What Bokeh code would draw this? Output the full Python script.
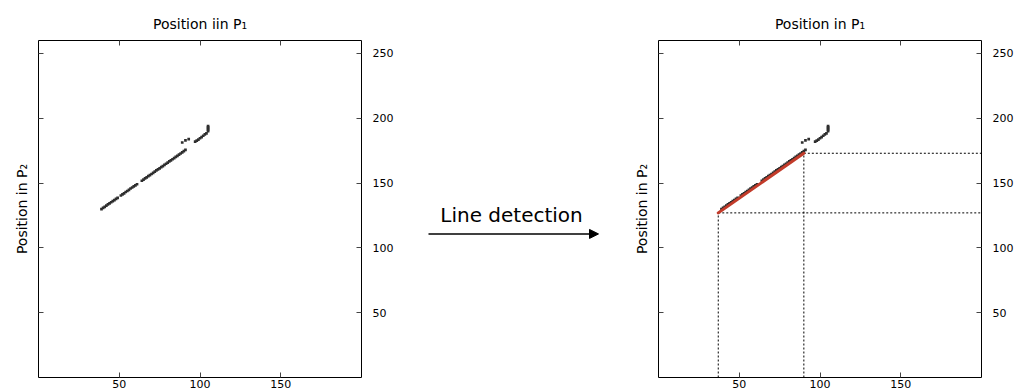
from bokeh.plotting import figure
from bokeh.layouts import row
from bokeh.models import (Range1d, LinearAxis, FixedTicker, Arrow, NormalHead, Label,
                          CustomLabelingPolicy)
from bokeh.embed import file_html
from bokeh.resources import INLINE

# ---- data ----
match_x = [39, 40, 41, 42, 43, 44, 45, 46, 47, 48, 49,
           51, 52, 53, 54, 55, 56, 57, 58, 59, 60, 61,
           64, 65, 66, 67, 68, 69, 70, 71, 72, 73, 74, 75, 76, 77,
           78, 79, 80, 81, 82, 83, 84, 85, 86, 87, 88, 89, 90, 91,
           89, 91, 93,
           97, 98, 99, 100, 101, 102, 103, 104,
           105, 105, 105, 105, 105]
match_y = [129.9, 130.8, 131.6, 132.6, 133.5, 134.3, 135.2, 136.0, 136.9, 137.8, 138.6,
           140.4, 141.3, 142.1, 143.1, 143.9, 144.8, 145.8, 146.6, 147.4, 148.3, 149.1,
           151.8, 152.6, 153.6, 154.4, 155.4, 156.2, 157.0, 157.9, 158.8, 159.8, 160.6, 161.4, 162.3, 163.1,
           164.1, 164.9, 165.8, 166.7, 167.5, 168.4, 169.3, 170.2, 171.0, 171.9, 172.8, 173.7, 174.6, 175.6,
           181.3, 182.9, 183.9,
           182.0, 182.8, 183.6, 184.6, 185.5, 186.5, 187.5, 188.4,
           190.0, 191.0, 192.0, 193.0, 194.0]
line_x = [37, 90]
line_y = [127, 173]
x_ticks = [50, 100, 150]
y_ticks = [50, 100, 150, 200, 250]
X_MIN, X_MAX = 0, 200
Y_MIN, Y_MAX = 0, 260

FONT = "DejaVu Sans"
DOT = "#2e2e2e"
RED = "#c23b2a"

NO_LABELS = CustomLabelingPolicy(code="""
for (const i of Array.from(indices)) { indices.unset(i) }
return indices
""")


def make_panel(title, width, left_border, right_border):
    p = figure(width=width, height=392,
               x_range=Range1d(X_MIN, X_MAX), y_range=Range1d(Y_MIN, Y_MAX),
               output_backend="svg", toolbar_location=None,
               x_axis_location=None, y_axis_location=None,
               min_border_left=left_border, min_border_right=right_border,
               min_border_top=40, min_border_bottom=15)
    p.grid.visible = False
    p.outline_line_color = "black"
    p.outline_line_width = 1
    p.background_fill_color = "white"
    p.border_fill_color = "white"

    p.title.text = title
    p.title.align = "center"
    p.title.text_font = FONT
    p.title.text_font_size = "14px"
    p.title.text_font_style = "normal"
    p.title.text_color = "black"
    p.title.standoff = 17

    common = dict(major_tick_in=5, major_tick_out=0,
                  minor_tick_line_color=None, axis_line_color=None,
                  major_tick_line_color="#444444",
                  major_label_text_font=FONT, major_label_text_font_size="11px",
                  major_label_text_color="black")

    bottom = LinearAxis(ticker=FixedTicker(ticks=x_ticks), major_label_standoff=2, **common)
    p.add_layout(bottom, "below")

    top = LinearAxis(ticker=FixedTicker(ticks=x_ticks), major_label_policy=NO_LABELS,
                     major_label_standoff=0, **common)
    top.major_label_text_font_size = "0px"
    p.add_layout(top, "above")

    left = LinearAxis(ticker=FixedTicker(ticks=y_ticks), major_label_policy=NO_LABELS,
                      major_label_standoff=0, **common)
    left.major_label_text_font_size = "0px"
    left.axis_label = "Position in P\u2082"
    left.axis_label_text_font = FONT
    left.axis_label_text_font_size = "14px"
    left.axis_label_text_font_style = "normal"
    left.axis_label_text_color = "black"
    left.axis_label_standoff = 9
    p.add_layout(left, "left")

    right = LinearAxis(ticker=FixedTicker(ticks=y_ticks), major_label_standoff=11, **common)
    p.add_layout(right, "right")

    p.scatter(match_x, match_y, marker="square", size=2.7, color=DOT, line_width=0)
    return p


left_p = make_panel("Position iin P\u2081", 401, 38, 40)
right_p = make_panel("Position in P\u2081", 388, 30, 35)

# detected line guides
right_p.segment(x0=line_x, y0=[Y_MIN, Y_MIN], x1=line_x, y1=line_y,
                line_color="black", line_dash="2 2", line_width=1)
right_p.segment(x0=line_x, y0=line_y, x1=[X_MAX, X_MAX], y1=line_y,
                line_color="black", line_dash="2 2", line_width=1)
right_p.line(line_x, line_y, line_color=RED, line_width=3, line_cap="round")

# middle panel with caption and arrow
mid = figure(width=227, height=392, x_range=Range1d(0, 227), y_range=Range1d(0, 392),
             output_backend="svg", toolbar_location=None, title=None,
             x_axis_location=None, y_axis_location=None,
             min_border=0)
mid.grid.visible = False
mid.outline_line_color = None
mid.add_layout(Label(x=110, y=175, text="Line detection", text_align="center",
                     text_baseline="bottom",
                     text_font=FONT, text_font_size="20px", text_color="black"))
mid.add_layout(Arrow(x_start=27, y_start=167, x_end=197, y_end=167, line_width=1.5,
                     line_color="black",
                     end=NormalHead(size=9, fill_color="black", line_color="black")))

layout = row(left_p, mid, right_p, spacing=0)
open("out.html", "w").write(file_html(layout, INLINE))
